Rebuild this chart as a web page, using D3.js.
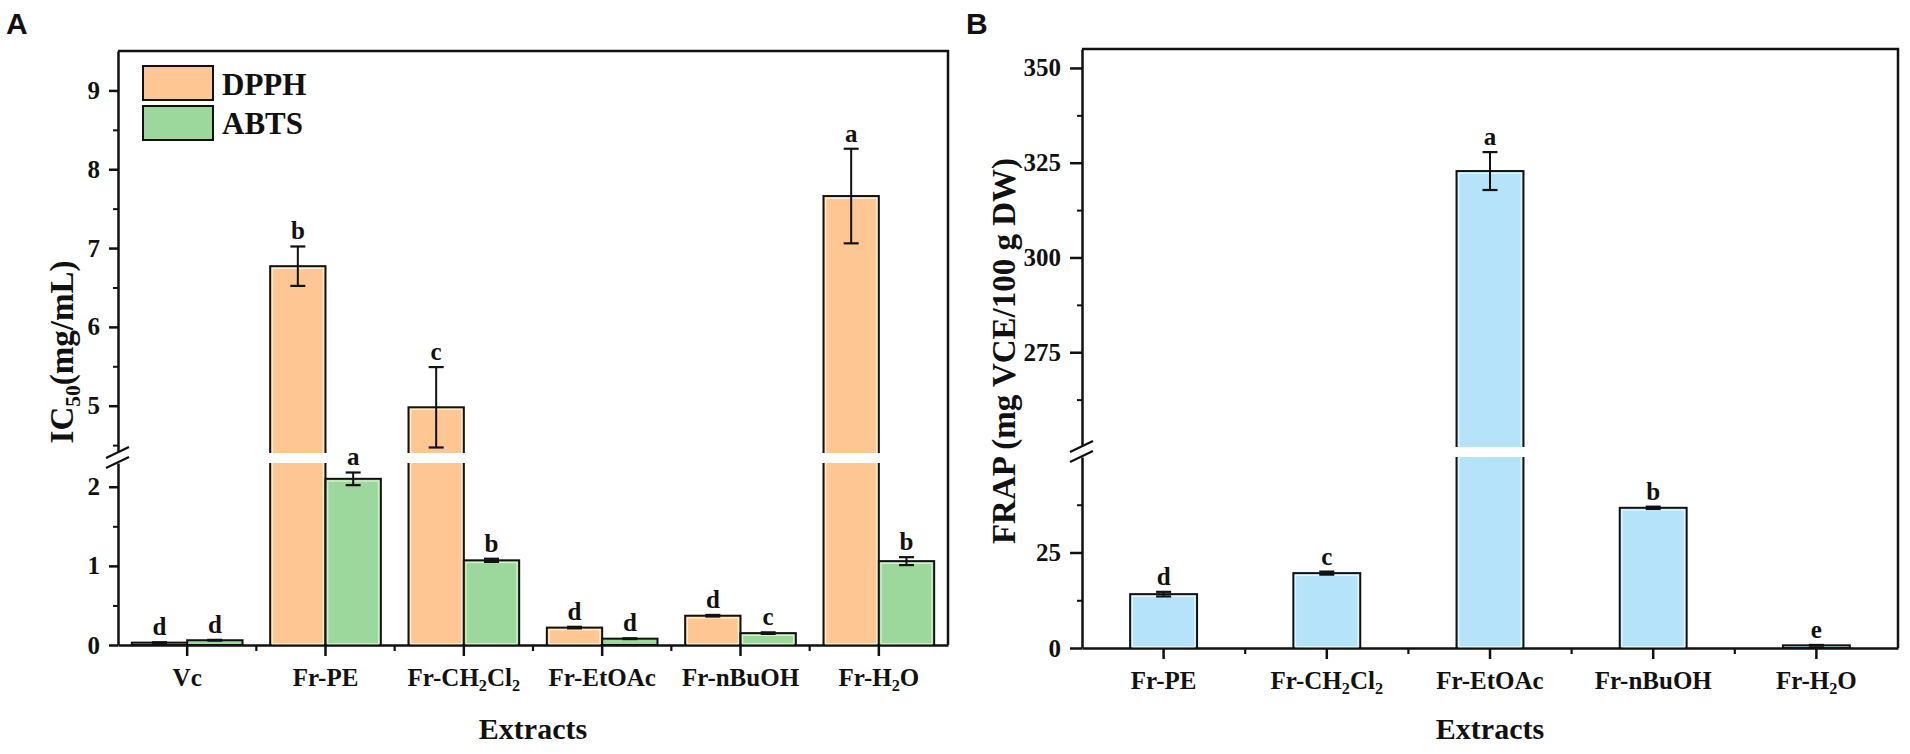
<!DOCTYPE html>
<html>
<head>
<meta charset="utf-8">
<script src="https://cdn.jsdelivr.net/npm/d3@7/dist/d3.min.js"></script>
<style>
  body { margin: 0; background: #fff; }
  text { font-family: "Liberation Serif", "Times New Roman", serif; font-weight: bold; fill: #111; }
  .panel { font-family: "Liberation Sans", Arial, sans-serif; }
</style>
</head>
<body>
<svg id="fig" width="1910" height="754"></svg>
<script>
// ---- data, panel A (IC50, mg/mL) ----
var extractsA = ["Vc", "Fr-PE", "Fr-CH2Cl2", "Fr-EtOAc", "Fr-nBuOH", "Fr-H2O"];
var seriesA = ["DPPH", "ABTS"];
var dpphValues = [0.03, 6.77, 4.98, 0.22, 0.37, 7.66];
var dpphErrors = [0.005, 0.25, 0.51, 0.01, 0.01, 0.60];
var dpphLetters = ["d", "b", "c", "d", "d", "a"];
var abtsValues = [0.06, 2.10, 1.07, 0.08, 0.15, 1.06];
var abtsErrors = [0.005, 0.08, 0.02, 0.005, 0.01, 0.05];
var abtsLetters = ["d", "a", "b", "d", "c", "b"];
var lowTicksA = [0, 1, 2];
var lowMinorA = [0.5, 1.5];
var highTicksA = [5, 6, 7, 8, 9];
var highMinorA = [4.5, 5.5, 6.5, 7.5, 8.5];

// ---- data, panel B (FRAP) ----
var extractsB = ["Fr-PE", "Fr-CH2Cl2", "Fr-EtOAc", "Fr-nBuOH", "Fr-H2O"];
var frapValues = [14.1, 19.6, 322.8, 36.7, 0.7];
var frapErrors = [0.6, 0.4, 5.0, 0.3, 0.1];
var frapLetters = ["d", "c", "a", "b", "e"];
var lowTicksB = [0, 25];
var lowMinorB = [12.5, 37.5];
var highTicksB = [275, 300, 325, 350];
var highMinorB = [262.5, 287.5, 312.5, 337.5];

var colors = { DPPH: "#fdc693", ABTS: "#9cd89b", FRAP: "#b5e3f9" };
var inner = { DPPH: "#fff0cc", ABTS: "#d4f2cf", FRAP: "#e4f6fe" };

var svg = d3.select("#fig");

// writes a label, turning digit runs into subscripts
function subLabel(textSel, str, size) {
  textSel.text(null);
  var parts = str.split(/(\d+)/).filter(function(p) { return p.length; });
  var shift = size * 0.22;
  var lowered = false;
  parts.forEach(function(p) {
    var isNum = /^\d+$/.test(p);
    var t = textSel.append("tspan").text(p);
    if (isNum) {
      t.attr("font-size", size * 0.65).attr("dy", shift);
      lowered = true;
    } else if (lowered) {
      t.attr("dy", -shift);
      lowered = false;
    }
  });
}

function drawBreak(g, x0, yTop, yBottom) {
  // white gap across the axis plus two slashes
  var mid = (yTop + yBottom) / 2;
  g.append("path")
    .attr("d", `M${x0 - 12},${mid - 1} L${x0 + 11},${mid - 11} L${x0 + 11},${mid - 1} L${x0 - 12},${mid + 9} Z`)
    .attr("fill", "#fff");
  [-5, 5].forEach(function(o) {
    g.append("line")
      .attr("x1", x0 - 12).attr("y1", mid + o + 5)
      .attr("x2", x0 + 11).attr("y2", mid + o - 6)
      .attr("stroke", "#111").attr("stroke-width", 2.2);
  });
}

// builds the frame, axes and break for one panel
function buildPanel(opt) {
  var g = svg.append("g");
  var x = d3.scaleBand().domain(opt.cats).range([opt.left, opt.right]).padding(0);
  var yLow = d3.scaleLinear().domain(opt.lowDomain).range([opt.bottom, opt.lowTop]);
  var yHigh = d3.scaleLinear().domain(opt.highDomain).range([opt.highBottom, opt.top]);
  var y = function(v) { return v <= opt.lowDomain[1] ? yLow(v) : yHigh(v); };

  // frame top and right
  g.append("path")
    .attr("d", `M${opt.left},${opt.top} H${opt.right} V${opt.bottom}`)
    .attr("fill", "none").attr("stroke", "#111").attr("stroke-width", 2.5);

  // y axes: two segments
  [[yLow, opt.lowTicks, opt.lowMinor], [yHigh, opt.highTicks, opt.highMinor]].forEach(function(s) {
    var ax = g.append("g")
      .attr("transform", `translate(${opt.left},0)`)
      .call(d3.axisLeft(s[0]).tickValues(s[1]).tickSize(opt.tickLen).tickSizeOuter(0)
        .tickPadding(opt.tickPad).tickFormat(d3.format("d")));
    ax.select(".domain").attr("stroke-width", 2.5).attr("stroke", "#111");
    ax.selectAll(".tick line").attr("stroke-width", 2.5).attr("stroke", "#111");
    ax.selectAll(".tick text").attr("font-size", 25).attr("font-family", "Liberation Serif").attr("fill", "#111");
    g.append("g")
      .attr("transform", `translate(${opt.left},0)`)
      .call(d3.axisLeft(s[0]).tickValues(s[2]).tickSize(5).tickSizeOuter(0).tickFormat(""))
      .call(function(a) { a.select(".domain").remove(); a.selectAll("line").attr("stroke-width", 2).attr("stroke", "#111"); });
  });

  // x axis
  var xAx = g.append("g")
    .attr("transform", `translate(0,${opt.bottom})`)
    .call(d3.axisBottom(x).tickSize(11).tickSizeOuter(0).tickPadding(12));
  xAx.select(".domain").attr("stroke-width", 2.5).attr("stroke", "#111");
  xAx.selectAll(".tick line").attr("stroke-width", 2.5).attr("stroke", "#111");
  xAx.selectAll(".tick text")
    .attr("font-size", 25).attr("font-family", "Liberation Serif").attr("fill", "#111")
    .each(function(d) { subLabel(d3.select(this), d, 25); });
  // minor ticks on category boundaries
  g.selectAll(".xminor")
    .data(opt.cats.slice(1))
    .enter().append("line")
    .attr("x1", d => x(d)).attr("x2", d => x(d))
    .attr("y1", opt.bottom).attr("y2", opt.bottom + 6)
    .attr("stroke", "#111").attr("stroke-width", 2.2);

  drawBreak(g, opt.left, opt.highBottom, opt.lowTop);

  // axis titles
  g.append("text")
    .attr("x", (opt.left + opt.right) / 2).attr("y", 739)
    .attr("text-anchor", "middle").attr("font-size", 30)
    .text("Extracts");
  var yt = g.append("text")
    .attr("transform", `translate(${opt.yTitleX},${opt.yTitleY}) rotate(-90)`)
    .attr("text-anchor", "middle").attr("font-size", 33);
  if (opt.ySub) subLabel(yt, opt.yTitle, 33); else yt.text(opt.yTitle);

  g.append("text").attr("class", "panel")
    .attr("x", opt.letterX).attr("y", 34).attr("font-size", 30)
    .text(opt.letter);

  return { g: g, x: x, y: y, gap: [opt.highBottom, opt.lowTop], breakValue: opt.lowDomain[1] };
}

function drawBars(p, rows) {
  var g = p.g;
  g.selectAll(null).data(rows).enter().append("rect")
    .attr("x", d => d.x).attr("width", d => d.w)
    .attr("y", d => p.y(d.value)).attr("height", d => p.y(0) - p.y(d.value))
    .attr("fill", d => colors[d.key])
    .attr("stroke", "#111").attr("stroke-width", 2);
  // pale inner edge
  g.selectAll(null).data(rows.filter(d => p.y(0) - p.y(d.value) > 8)).enter().append("rect")
    .attr("x", d => d.x + 2.2).attr("width", d => d.w - 4.4)
    .attr("y", d => p.y(d.value) + 2.2).attr("height", d => p.y(0) - p.y(d.value) - 3.4)
    .attr("fill", "none").attr("stroke", d => inner[d.key]).attr("stroke-width", 1.3);
  // cut through bars that cross the break
  g.selectAll(null).data(rows.filter(d => d.value > p.breakValue)).enter().append("rect")
    .attr("x", d => d.x - 2).attr("width", d => d.w + 4)
    .attr("y", p.gap[0]).attr("height", p.gap[1] - p.gap[0])
    .attr("fill", "#fff");
  // error bars
  rows.forEach(function(d) {
    var cx = d.x + d.w / 2;
    var y1 = p.y(d.value + d.err), y2 = p.y(d.value - d.err);
    g.append("line").attr("x1", cx).attr("x2", cx).attr("y1", y1).attr("y2", y2)
      .attr("stroke", "#111").attr("stroke-width", 2);
    [y1, y2].forEach(function(yy) {
      g.append("line").attr("x1", cx - 7.5).attr("x2", cx + 7.5).attr("y1", yy).attr("y2", yy)
        .attr("stroke", "#111").attr("stroke-width", 2.2);
    });
  });
  g.selectAll(null).data(rows).enter().append("text")
    .attr("x", d => d.x + d.w / 2).attr("y", d => p.y(d.value + d.err) - 7)
    .attr("text-anchor", "middle").attr("font-size", 25)
    .text(d => d.letter);
}

// ---- panel A ----
var pA = buildPanel({
  cats: extractsA, left: 118, right: 948, top: 51, bottom: 645,
  lowDomain: [0, 2.3], lowTop: 463, highDomain: [4.4, 9.5], highBottom: 453,
  lowTicks: lowTicksA, lowMinor: lowMinorA, highTicks: highTicksA, highMinor: highMinorA,
  tickLen: 9, tickPad: 9,
  yTitle: "IC50(mg/mL)", ySub: true, yTitleX: 73, yTitleY: 352,
  letter: "A", letterX: 6
});
var sub = d3.scaleBand().domain(seriesA).range([0, pA.x.bandwidth() * 0.8]);
var rowsA = [];
extractsA.forEach(function(c, i) {
  var x0 = pA.x(c) + pA.x.bandwidth() * 0.1;
  rowsA.push({ key: "DPPH", x: x0 + sub("DPPH"), w: sub.bandwidth(), value: dpphValues[i], err: dpphErrors[i], letter: dpphLetters[i] });
  rowsA.push({ key: "ABTS", x: x0 + sub("ABTS"), w: sub.bandwidth(), value: abtsValues[i], err: abtsErrors[i], letter: abtsLetters[i] });
});
drawBars(pA, rowsA);

// legend
var legend = pA.g.append("g");
seriesA.forEach(function(s, i) {
  legend.append("rect")
    .attr("x", 143).attr("y", 66 + i * 40).attr("width", 70).attr("height", 34)
    .attr("fill", colors[s]).attr("stroke", "#111").attr("stroke-width", 2);
  legend.append("text")
    .attr("x", 222).attr("y", 95 + i * 39).attr("font-size", 31)
    .text(s);
});

// ---- panel B ----
var pB = buildPanel({
  cats: extractsB, left: 1082, right: 1898, top: 49, bottom: 648,
  lowDomain: [0, 50], lowTop: 457, highDomain: [250, 355], highBottom: 447,
  lowTicks: lowTicksB, lowMinor: lowMinorB, highTicks: highTicksB, highMinor: highMinorB,
  tickLen: 12, tickPad: 9,
  yTitle: "FRAP (mg VCE/100 g DW)", ySub: false, yTitleX: 1015, yTitleY: 351,
  letter: "B", letterX: 966
});
var rowsB = extractsB.map(function(c, i) {
  var w = pB.x.bandwidth() * 0.41;
  return { key: "FRAP", x: pB.x(c) + (pB.x.bandwidth() - w) / 2, w: w, value: frapValues[i], err: frapErrors[i], letter: frapLetters[i] };
});
drawBars(pB, rowsB);
</script>
</body>
</html>
